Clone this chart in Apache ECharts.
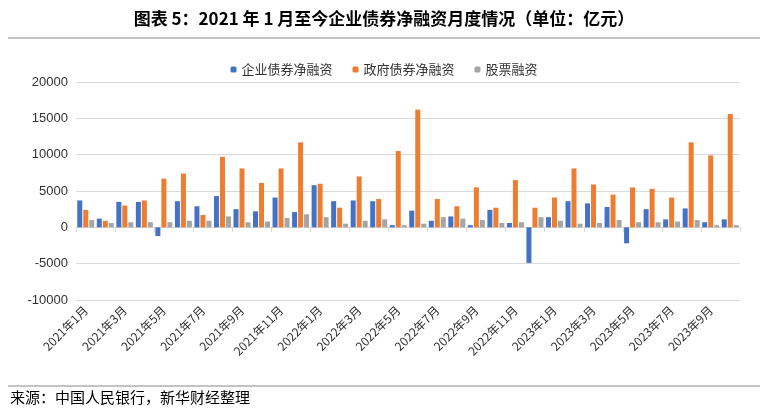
<!DOCTYPE html><html><head><meta charset="utf-8"><script src="https://cdn.jsdelivr.net/npm/echarts@6/dist/echarts.min.js"></script>
<style>body{margin:0;background:#fff}#c{width:768px;height:420px}</style></head><body><div id="c"></div><script>
const categories=[];for(const y of [2021,2022,2023]){for(let m=1;m<=12;m++){if(y===2023&&m>10)break;categories.push(y+'年'+m+'月');}}
const corp=[3700,1200,3500,3500,-1200,3600,2900,4300,2500,2200,4100,2100,5800,3600,3700,3600,300,2300,900,1500,300,2400,600,-4900,1400,3600,3300,2800,-2200,2500,1100,2600,700,1100];
const gov=[2400,900,3000,3700,6700,7400,1700,9700,8100,6100,8100,11700,6000,2700,7000,3900,10500,16200,3900,2900,5500,2700,6500,2700,4100,8100,5900,4500,5500,5300,4100,11700,9900,15600];
const equity=[1000,600,700,700,700,900,900,1500,700,800,1300,1800,1400,500,900,1100,300,500,1400,1200,1000,600,700,1400,900,500,600,1000,700,700,800,1000,300,300];
const f='"Noto Sans CJK SC"';
const ch=echarts.init(document.getElementById('c'));
ch.setOption({animation:false,
graphic:[{type:'text',left:'center',top:10,style:{text:'图表 5：2021 年 1 月至今企业债券净融资月度情况（单位：亿元）',font:'bold 17px '+f,fill:'#000'}},
{type:'line',shape:{x1:8,y1:38,x2:760,y2:38},style:{stroke:'#888',lineWidth:1}},
{type:'line',shape:{x1:8,y1:386,x2:760,y2:386},style:{stroke:'#888',lineWidth:1}},
{type:'text',left:10,top:390,style:{text:'来源：中国人民银行，新华财经整理',font:'15px '+f,fill:'#000'}}],
legend:{top:58,itemWidth:6,itemHeight:6,itemGap:20,textStyle:{fontFamily:f,fontSize:13,color:'#333'},data:['企业债券净融资','政府债券净融资','股票融资']},
grid:{left:76,right:28,top:82,bottom:120},
xAxis:{type:'category',data:categories,axisTick:{show:true,interval:1,lineStyle:{color:'#d9d9d9'}},axisLine:{onZero:true,lineStyle:{color:'#d9d9d9'}},
axisLabel:{interval:1,rotate:45,fontFamily:f,fontSize:12,color:'#333'}},
yAxis:{type:'value',min:-10000,max:20000,interval:5000,axisLabel:{formatter:v=>String(v),fontFamily:'Liberation Sans',fontSize:13,color:'#333'},splitLine:{lineStyle:{color:'#d9d9d9'}}},
series:[{name:'企业债券净融资',type:'bar',data:corp,itemStyle:{color:'#4472c4'},barWidth:5,barGap:'20%'},
{name:'政府债券净融资',type:'bar',data:gov,itemStyle:{color:'#ed7d31'},barWidth:5,barGap:'20%'},
{name:'股票融资',type:'bar',data:equity,itemStyle:{color:'#a5a5a5'},barWidth:5,barGap:'20%'}]});
</script></body></html>
